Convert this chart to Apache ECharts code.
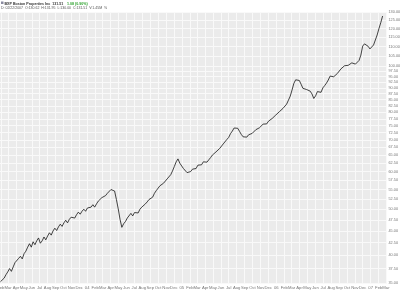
<!DOCTYPE html>
<html><head><meta charset="utf-8">
<script src="https://cdn.jsdelivr.net/npm/echarts@6/dist/echarts.min.js"></script>
<style>html,body{margin:0;padding:0;background:#fff}#c{width:400px;height:291px}</style>
</head><body><div id="c"></div>
<script>
// Weekly closes, first week ending 2003-01-31
const startDate = '2003-01-31';
const stepDays = 7;
const closes = [
  35.2, 35.0, 35.8, 36.4, 36.9, 37.5, 37.0, 37.8, 38.6, 38.9,
  39.4, 39.8, 39.3, 40.3, 40.8, 41.6, 42.3, 41.6, 42.7, 42.1,
  42.9, 43.5, 42.4, 42.9, 43.7, 43.1, 43.9, 44.6, 44.1, 45.0,
  45.6, 45.1, 45.9, 46.5, 46.0, 46.8, 47.4, 46.8, 47.6, 48.1,
  48.4, 47.9, 48.7, 49.3, 48.8, 49.5, 50.0, 49.5, 50.3, 49.9,
  50.5, 51.1, 50.5, 51.3, 52.0, 52.3, 52.9, 52.4, 53.4, 54.0,
  54.5, 55.0, 55.5, 54.6, 52.4, 50.1, 47.6, 45.8, 46.6, 47.1,
  47.9, 48.3, 49.0, 48.4, 49.2, 49.6, 49.1, 50.0, 50.5, 50.8,
  51.3, 51.8, 52.4, 51.9, 53.0, 54.0, 54.7, 55.1, 56.0, 56.2,
  56.7, 57.1, 57.9, 58.4, 59.1, 60.2, 61.5, 62.9, 63.8, 62.5,
  61.9, 60.9, 60.5, 59.7, 59.5, 60.0, 60.7, 61.1, 60.9, 61.9,
  62.3, 62.0, 62.9, 63.1, 62.8, 63.5, 64.2, 65.0, 65.2, 66.0,
  66.4, 67.1, 67.5, 68.6, 69.2, 70.1, 70.8, 72.1, 73.0, 74.1,
  74.6, 74.0, 72.9, 71.8, 71.0, 70.4, 70.9, 71.7, 71.1, 72.2,
  72.7, 73.5, 72.9, 74.2, 74.9, 75.5, 76.0, 75.6, 76.6, 76.9,
  77.6, 78.2, 78.9, 79.3, 80.2, 80.6, 81.5, 82.2, 83.2, 84.8,
  86.5, 89.1, 92.0, 93.6, 94.5, 93.3, 91.6, 89.8, 90.4, 89.3,
  90.1, 88.6, 87.4, 85.5, 86.6, 88.4, 89.2, 88.1, 90.0, 91.0,
  92.1, 93.5, 95.3, 94.5, 95.0, 95.9, 96.5, 97.1, 98.7, 99.4,
  100.2, 99.7, 100.4, 101.0, 101.6, 101.2, 101.0, 101.9, 102.8, 105.5,
  110.2, 111.4, 110.5, 110.1, 108.7, 107.9, 110.8, 113.5, 116.3, 120.0,
  123.5, 127.5
];
const yTicks = [35, 37.5, 40, 42.5, 45, 47.5, 50, 52.5, 55, 57.5, 60, 62.5, 65, 67.5, 70, 72.5,
  75, 77.5, 80, 82.5, 85, 87.5, 90, 92.5, 95, 97.5, 100, 105, 110, 115, 120, 125, 130];
const xTicks = [
  '2003-02-01','2003-03-01','2003-04-01','2003-05-01','2003-06-01','2003-07-01','2003-08-01','2003-09-01','2003-10-01','2003-11-01','2003-12-01',
  '2004-01-01','2004-02-01','2004-03-01','2004-04-01','2004-05-01','2004-06-01','2004-07-01','2004-08-01','2004-09-01','2004-10-01','2004-11-01','2004-12-01',
  '2005-01-01','2005-02-01','2005-03-01','2005-04-01','2005-05-01','2005-06-01','2005-07-01','2005-08-01','2005-09-01','2005-10-01','2005-11-01','2005-12-01',
  '2006-01-01','2006-02-01','2006-03-01','2006-04-01','2006-05-01','2006-06-01','2006-07-01','2006-08-01','2006-09-01','2006-10-01','2006-11-01','2006-12-01',
  '2007-01-01','2007-02-01','2007-03-01'];
const xTickLabels = [
  'Feb','Mar','Apr','May','Jun','Jul','Aug','Sep','Oct','Nov','Dec',
  '04','Feb','Mar','Apr','May','Jun','Jul','Aug','Sep','Oct','Nov','Dec',
  '05','Feb','Mar','Apr','May','Jun','Jul','Aug','Sep','Oct','Nov','Dec',
  '06','Feb','Mar','Apr','May','Jun','Jul','Aug','Sep','Oct','Nov','Dec',
  '07','Feb','Mar'];
const titleText = 'BXP Boston Properties Inc  131.51';
const changeText = '1.08 (0.90%)';
const infoText = 'D: 02/22/2007  O:130.62  H:131.95  L:130.00  C:131.51  V:1.45M  %';

const toTime = s => +new Date(s + 'T00:00:00');
const t0 = toTime(startDate);
const seriesData = closes.map((v, i) => [t0 + i * stepDays * 864e5, v]);
const xTickTimes = xTicks.map(toTime);
const labelMap = new Map(xTickTimes.map((t, i) => [t, xTickLabels[i]]));

const chart = echarts.init(document.getElementById('c'), null, {renderer: 'canvas'});
chart.setOption({
  animation: false,
  backgroundColor: '#ffffff',
  grid: {left: 0, right: 13, top: 12, bottom: 7, containLabel: false, outerBoundsMode: 'none',
         show: true, backgroundColor: '#ebebeb', borderWidth: 0},
  xAxis: {
    type: 'value', min: toTime('2003-01-29'), max: toTime('2007-03-05'), scale: true,
    axisLine: {show: false}, axisTick: {show: false, customValues: xTickTimes},
    splitLine: {show: true, lineStyle: {color: '#f9f9f9', width: 1}},
    axisLabel: {customValues: xTickTimes, formatter: v => labelMap.get(v) || '',
      color: '#777', fontSize: 4.2, margin: 1.5, fontFamily: 'Liberation Sans'}
  },
  yAxis: {
    type: 'log', position: 'right', min: 34.8, max: 130, logBase: 10,
    axisLine: {show: false}, axisTick: {show: false, customValues: yTicks},
    splitLine: {show: true, lineStyle: {color: '#f9f9f9', width: 1}},
    axisLabel: {customValues: yTicks, formatter: v => Number(v).toFixed(2),
      color: '#777', fontSize: 3.8, margin: 1.5, fontFamily: 'Liberation Sans'}
  },
  series: [{
    type: 'line', data: seriesData, showSymbol: false, symbol: 'none',
    lineStyle: {color: '#151515', width: 0.8}
  }],
  graphic: [
    {type: 'rect', shape: {x: 1, y: 1.5, width: 2.5, height: 2.5}, style: {fill: '#8a8aa0'}},
    {type: 'text', x: 4.5, y: 1.5, style: {text: titleText, font: 'bold 3.6px Liberation Sans', fill: '#333'}},
    {type: 'text', x: 67, y: 1.5, style: {text: changeText, font: 'bold 3.6px Liberation Sans', fill: '#2aa02a'}},
    {type: 'text', x: 1, y: 6.5, style: {text: infoText, font: '3.5px Liberation Sans', fill: '#555'}}
  ]
});
</script></body></html>
